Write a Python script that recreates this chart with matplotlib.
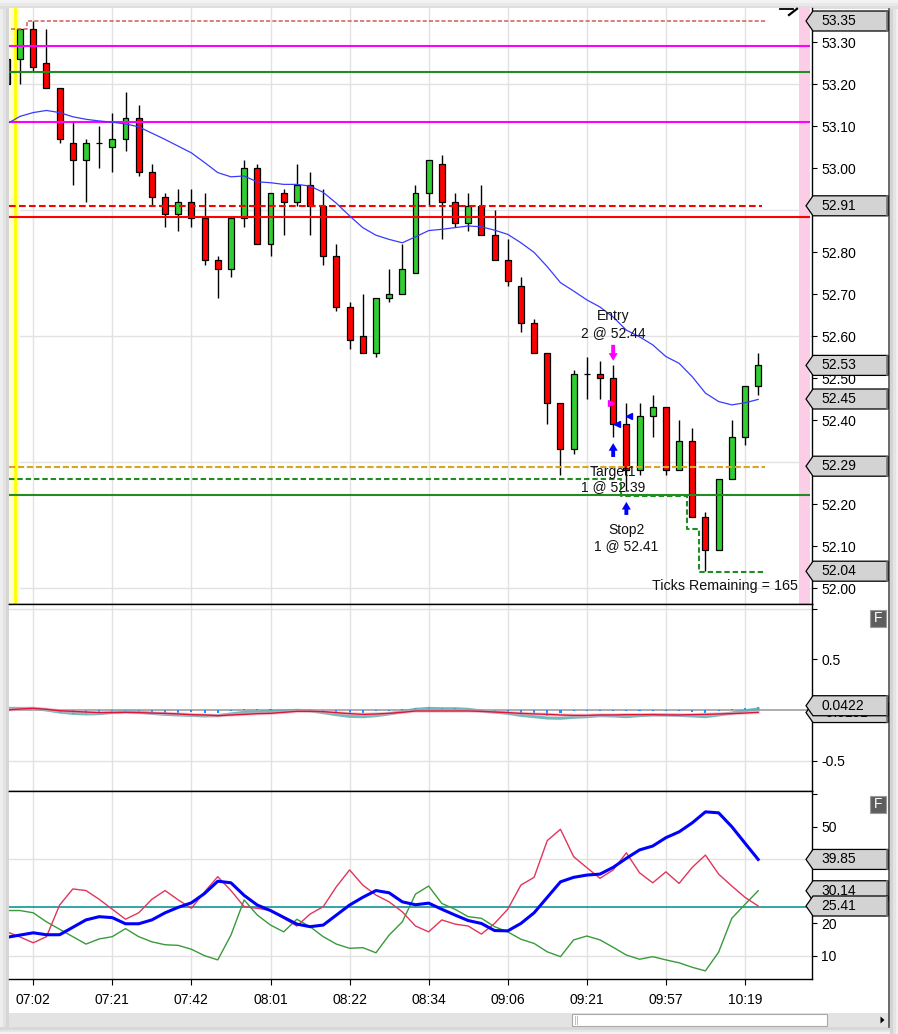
import matplotlib
matplotlib.use('Agg')
import matplotlib.pyplot as plt
from matplotlib.patches import Rectangle, Polygon
from matplotlib.lines import Line2D
from matplotlib.transforms import IdentityTransform
import numpy as np

plt.rcParams['font.family'] = ['Liberation Sans', 'DejaVu Sans']

W, H = 898, 1034

# ---------------- data ----------------
opens = [53.26, 53.26, 53.33, 53.25, 53.19, 53.06, 53.02, 53.06, 53.05, 53.07,
         53.12, 52.99, 52.93, 52.89, 52.92, 52.88, 52.78, 52.76, 52.88, 53.00,
         52.82, 52.94, 52.92, 52.96, 52.91, 52.79, 52.67, 52.60, 52.56, 52.69,
         52.70, 52.75, 52.94, 53.01, 52.92, 52.87, 52.91, 52.84, 52.78, 52.72,
         52.63, 52.56, 52.44, 52.33, 52.51, 52.51, 52.50, 52.39, 52.28, 52.41,
         52.43, 52.28, 52.35, 52.17, 52.09, 52.26, 52.36, 52.48]
highs = [53.26, 53.33, 53.35, 53.33, 53.19, 53.11, 53.07, 53.10, 53.13, 53.18,
         53.15, 53.01, 52.94, 52.95, 52.95, 52.94, 52.79, 52.88, 53.02, 53.01,
         52.94, 52.95, 53.01, 52.99, 52.95, 52.82, 52.68, 52.70, 52.69, 52.76,
         52.82, 52.96, 53.02, 53.03, 52.94, 52.94, 52.96, 52.90, 52.83, 52.74,
         52.64, 52.56, 52.44, 52.52, 52.55, 52.54, 52.53, 52.44, 52.44, 52.46,
         52.43, 52.40, 52.38, 52.18, 52.26, 52.40, 52.48, 52.56]
lows = [53.20, 53.20, 53.23, 53.19, 53.06, 52.96, 52.92, 53.00, 52.99, 53.04,
        52.98, 52.91, 52.86, 52.85, 52.86, 52.77, 52.69, 52.74, 52.86, 52.82,
        52.79, 52.84, 52.91, 52.84, 52.77, 52.66, 52.57, 52.56, 52.55, 52.68,
        52.70, 52.75, 52.91, 52.83, 52.86, 52.85, 52.84, 52.78, 52.72, 52.61,
        52.56, 52.39, 52.27, 52.32, 52.45, 52.45, 52.36, 52.23, 52.27, 52.36,
        52.27, 52.28, 52.17, 52.04, 52.09, 52.26, 52.34, 52.46]
closes = [53.20, 53.33, 53.24, 53.19, 53.07, 53.02, 53.06, 53.06, 53.07, 53.12,
          52.99, 52.93, 52.89, 52.92, 52.88, 52.78, 52.76, 52.88, 53.00, 52.82,
          52.94, 52.92, 52.96, 52.91, 52.79, 52.67, 52.59, 52.56, 52.69, 52.70,
          52.76, 52.94, 53.02, 52.92, 52.87, 52.91, 52.84, 52.78, 52.73, 52.63,
          52.56, 52.44, 52.33, 52.51, 52.51, 52.50, 52.39, 52.28, 52.41, 52.43,
          52.28, 52.35, 52.17, 52.09, 52.26, 52.36, 52.48, 52.53]
sma = [53.105, 53.123, 53.132, 53.137, 53.132, 53.122, 53.116, 53.112, 53.109, 53.105,
       53.098, 53.083, 53.068, 53.052, 53.036, 53.013, 52.989, 52.979, 52.981, 52.967,
       52.965, 52.961, 52.961, 52.957, 52.942, 52.916, 52.886, 52.858, 52.840, 52.830,
       52.822, 52.836, 52.851, 52.854, 52.858, 52.862, 52.860, 52.852, 52.842, 52.822,
       52.799, 52.765, 52.727, 52.707, 52.686, 52.669, 52.645, 52.614, 52.598, 52.579,
       52.551, 52.535, 52.503, 52.464, 52.444, 52.436, 52.441, 52.449]

macd = [0.016, 0.016, 0.016, 0.000, -0.020, -0.033, -0.039, -0.036, -0.023, -0.016,
        -0.020, -0.033, -0.043, -0.049, -0.053, -0.059, -0.056, -0.039, -0.023, -0.020,
        -0.016, -0.010, -0.003, -0.007, -0.026, -0.046, -0.063, -0.066, -0.056, -0.039,
        -0.016, 0.007, 0.016, 0.013, 0.013, 0.007, -0.010, -0.020, -0.033, -0.053,
        -0.066, -0.079, -0.082, -0.072, -0.066, -0.056, -0.059, -0.066, -0.056, -0.049,
        -0.049, -0.053, -0.059, -0.066, -0.049, -0.030, -0.007, 0.010]
signal = [0.000, 0.010, 0.016, 0.007, -0.007, -0.013, -0.020, -0.026, -0.026, -0.023,
          -0.026, -0.030, -0.033, -0.039, -0.046, -0.049, -0.056, -0.049, -0.043, -0.036,
          -0.033, -0.023, -0.013, -0.013, -0.016, -0.026, -0.036, -0.043, -0.039, -0.033,
          -0.023, -0.010, -0.010, -0.010, -0.010, -0.010, -0.013, -0.020, -0.026, -0.033,
          -0.039, -0.043, -0.049, -0.053, -0.053, -0.049, -0.049, -0.046, -0.046, -0.046,
          -0.049, -0.049, -0.046, -0.043, -0.039, -0.036, -0.030, -0.023]
hist = [0.000, 0.005, 0.000, -0.013, -0.026, -0.036, -0.039, -0.033, -0.023, -0.010,
        -0.020, -0.026, -0.026, -0.026, -0.016, -0.026, -0.026, -0.010, 0.007, 0.007,
        0.007, 0.003, 0.005, 0.007, -0.020, -0.026, -0.033, -0.033, -0.013, -0.005,
        0.007, 0.020, 0.026, 0.023, 0.016, 0.008, -0.010, -0.026, -0.033, -0.049,
        -0.043, -0.056, -0.026, -0.013, -0.005, -0.005, -0.013, -0.013, -0.007, -0.007,
        -0.005, -0.005, -0.016, -0.026, -0.007, 0.007, 0.020, 0.033]

adx = [15.7, 16.4, 17.1, 16.5, 16.5, 18.8, 21.1, 22.1, 21.8, 19.9,
       19.9, 21.1, 23.3, 25.0, 26.4, 29.3, 33.1, 32.6, 28.7, 25.7,
       24.0, 21.9, 19.8, 19.0, 19.5, 22.6, 25.7, 28.1, 30.2, 29.5,
       26.7, 25.8, 26.3, 24.4, 22.6, 20.9, 20.0, 17.8, 17.7, 20.0,
       23.3, 28.1, 32.9, 34.3, 35.0, 35.3, 37.4, 40.2, 42.8, 44.0,
       46.6, 48.4, 51.2, 54.6, 54.3, 50.0, 44.9, 39.85]
plus_di = [17.4, 15.8, 14.0, 15.9, 25.7, 30.7, 30.2, 27.5, 24.4, 21.3,
           23.3, 27.5, 30.2, 27.3, 24.7, 29.8, 34.5, 30.2, 25.2, 24.7,
           24.0, 21.6, 19.2, 22.9, 25.2, 31.4, 36.6, 31.9, 28.8, 26.7,
           23.6, 19.2, 17.4, 21.1, 19.8, 19.2, 16.7, 20.0, 24.4, 31.9,
           34.3, 45.7, 49.2, 40.7, 37.3, 34.0, 36.6, 41.9, 35.7, 32.6,
           36.0, 32.4, 37.4, 41.2, 35.3, 31.6, 28.1, 25.41]
minus_di = [24.0, 24.0, 23.3, 20.5, 18.2, 15.9, 13.6, 15.2, 15.9, 18.4,
            15.9, 14.3, 13.4, 13.2, 12.0, 10.0, 8.7, 16.4, 27.3, 22.6,
            19.5, 17.4, 21.3, 19.0, 15.9, 13.6, 12.3, 12.5, 10.9, 16.4,
            20.5, 29.1, 31.6, 26.2, 24.4, 22.1, 21.6, 19.0, 17.4, 15.1,
            13.8, 11.2, 9.7, 14.9, 16.1, 14.9, 12.6, 10.2, 8.9, 9.7,
            8.7, 7.8, 6.4, 5.3, 11.1, 21.6, 25.9, 30.14]
adx_level = 25

time_labels = ['07:02', '07:21', '07:42', '08:01', '08:22', '08:34',
               '09:06', '09:21', '09:57', '10:19']
time_bars = [2, 8, 14, 20, 26, 32, 38, 44, 50, 56]

price_ticks = [52.0, 52.1, 52.2, 52.3, 52.4, 52.5, 52.6, 52.7, 52.8, 52.9,
               53.0, 53.1, 53.2, 53.3]
price_hidden = [52.3, 52.9]          # labels covered by price tags in the reference
price_grid = [52.0, 52.3, 52.6, 52.9, 53.2]

# level lines
magenta_levels = [53.29, 53.11]
green_levels = [53.229, 52.221]
red_level = 52.883
red_dash_level = 52.91
orange_dash_level = 52.288
run_high_steps = [53.33, 53.35]
stop_steps = [52.26, 52.219, 52.14, 52.039]

entry_price, target_price, stop_price = 52.44, 52.39, 52.41
entry_bar, target_bar, stop_bar = 46, 46, 47

tags_main = [(53.35, '53.35'), (52.91, '52.91'), (52.53, '52.53'),
             (52.45, '52.45'), (52.29, '52.29'), (52.04, '52.04')]
tags_macd = [(-0.025, '-0.0191'), (0.0422, '0.0422')]
tags_adx = [(39.85, '39.85'), (30.14, '30.14'), (25.41, '25.41')]

# ---------------- figure ----------------
fig = plt.figure(figsize=(W / 100, H / 100), dpi=100)
fig.patch.set_facecolor('white')
ID = IdentityTransform()


def prect(x0, y0, x1, y1, **kw):
    r = Rectangle((x0, H - y1), x1 - x0, y1 - y0, transform=ID, **kw)
    fig.add_artist(r)
    return r


def pline(xs, ys, **kw):
    fig.add_artist(Line2D(xs, [H - y for y in ys], transform=ID, **kw))


# shadows / frame
for (a, b, col) in [(0, 3, '#f3f3f3'), (3, 6, '#e9e9e9'), (6, 8.5, '#dedede')]:
    prect(0, a, W, b, fc=col, ec='none', zorder=-2)
for (a, b, col) in [(0, 3, '#eeeeee'), (3, 6, '#e2e2e2'), (6, 9, '#d6d6d6')]:
    prect(a, 8.5, b, 1028, fc=col, ec='none', zorder=-2)
for (a, b, col) in [(890, 893, '#d4d4d4'), (893, 896, '#e4e4e4'), (896, 898, '#f0f0f0')]:
    prect(a, 8.5, b, 1034, fc=col, ec='none', zorder=-2)
for (a, b, col) in [(1027, 1030, '#d8d8d8'), (1030, 1032, '#e6e6e6'), (1032, 1034, '#f2f2f2')]:
    prect(0, a, 890, b, fc=col, ec='none', zorder=-2)
pline([889.3, 889.3], [8.5, 1027], color='#505050', lw=1.2, zorder=5)

# scrollbar
prect(9, 1013, 888.5, 1027, fc='#e3e3e3', ec='none', zorder=1)
prect(572, 1014, 827, 1026, fc='white', ec='#a9a9a9', lw=0.8, zorder=2)
pline([575, 575], [1016, 1024], color='#c0c0c0', lw=0.7, zorder=3)
pline([577, 577], [1016, 1024], color='#c0c0c0', lw=0.7, zorder=3)
fig.add_artist(Polygon([(880.5, H - 1016.5), (880.5, H - 1023.5), (884.5, H - 1020)],
                       closed=True, fc='black', ec='none', transform=ID, zorder=3))

L_PX, R_PX = 9, 812
fl, fw = L_PX / W, (R_PX - L_PX) / W
ax1 = fig.add_axes([fl, (H - 604) / H, fw, 596 / H])
ax2 = fig.add_axes([fl, (H - 791) / H, fw, 187 / H])
ax3 = fig.add_axes([fl, (H - 979) / H, fw, 188 / H])

bar_px0, bar_dx = 6.9, 13.18
xl = ((L_PX - bar_px0) / bar_dx, (R_PX - bar_px0) / bar_dx)

for ax in (ax1, ax2, ax3):
    ax.set_xlim(*xl)
    ax.set_facecolor('white')
    ax.spines['left'].set_visible(False)
    for s in ('right', 'top', 'bottom'):
        ax.spines[s].set_color('black')
        ax.spines[s].set_linewidth(1.0)
    ax.yaxis.tick_right()
    ax.tick_params(axis='y', which='both', length=3.6, width=0.8, pad=3,
                   labelsize=10, colors='black', direction='out')
    ax.tick_params(axis='x', length=0, labelbottom=False)
    for tb in time_bars:
        ax.axvline(tb, color='#e2e2e2', lw=1.0, zorder=0.5)
ax1.spines['top'].set_visible(False)

# ---------------- main panel ----------------
ax1.set_ylim(52 - 16 / 420, 52 + 580 / 420)
for g in price_grid:
    ax1.axhline(g, color='#e2e2e2', lw=1.0, zorder=0.5)
ax1.set_yticks(price_ticks)
ax1.set_yticklabels(['' if any(abs(t - h) < 1e-6 for h in price_hidden) else '%.2f' % t
                     for t in price_ticks])

ax1.axvspan(xl[0], 0.99, color='#ffffcc', lw=0, zorder=1)
ax1.axvline(0.61, color='#ffff00', lw=2.0, zorder=1.5)
ax1.axvspan((799 - bar_px0) / bar_dx, (810 - bar_px0) / bar_dx, color='#fccde6', lw=0, zorder=1)

idx = np.arange(len(opens))
o = np.array(opens); c = np.array(closes)
cols = np.where(c >= o, '#32cd32', '#ff0000')
ax1.vlines(idx, lows, highs, color='black', lw=1.0, zorder=3)
ax1.bar(idx, np.abs(c - o), bottom=np.minimum(o, c), width=0.45, color=cols,
        edgecolor='black', linewidth=0.9, zorder=4)

xr_full = (810 - bar_px0) / bar_dx
for m in magenta_levels:
    ax1.hlines(m, xl[0], xr_full, color='#ff00ff', lw=1.5, zorder=5)
for g in green_levels:
    ax1.hlines(g, xl[0], xr_full, color='#228b22', lw=1.5, zorder=5)
ax1.hlines(red_level, xl[0], xr_full, color='#ff0000', lw=1.5, zorder=5)
ax1.hlines(red_dash_level, xl[0], 57.3, color='#ff0000', lw=1.5,
           linestyles=(0, (3.2, 1.6)), zorder=5)
ax1.hlines(orange_dash_level, xl[0], 57.5, color='#daa520', lw=1.5,
           linestyles=(0, (3.0, 1.3)), zorder=5)
ax1.plot([0.3, 1.5, 1.5, 57.6],
         [run_high_steps[0], run_high_steps[0], run_high_steps[1], run_high_steps[1]],
         color='#cd5c5c', lw=1.1, dashes=(2.7, 1.4), zorder=5)
ax1.plot([xl[0], 46.57, 46.57, 51.58, 51.58, 52.53, 52.53, 57.5],
         [stop_steps[0], stop_steps[0], stop_steps[1], stop_steps[1],
          stop_steps[2], stop_steps[2], stop_steps[3], stop_steps[3]],
         color='#228b22', lw=1.5, dashes=(2.6, 1.4), zorder=5)

ax1.plot(idx, sma, color='#3a3aff', lw=0.9, zorder=6)

# executions
ax1.plot(entry_bar - 0.18, entry_price, marker='>', color='#ff00ff', ms=5, zorder=7)
ax1.plot(target_bar + 0.28, target_price, marker='<', color='#0000ff', ms=5, zorder=7)
ax1.plot(stop_bar + 0.2, stop_price, marker='<', color='#0000ff', ms=5, zorder=7)

astyle = 'simple,head_length=0.55,head_width=0.65,tail_width=0.28'
ax1.annotate('', xy=(entry_bar, 52.541), xytext=(entry_bar, 52.579),
             arrowprops=dict(arrowstyle=astyle, color='#ff00ff', lw=0,
                             shrinkA=0, shrinkB=0, mutation_scale=10), zorder=7)
ax1.annotate('', xy=(target_bar, 52.345), xytext=(target_bar, 52.312),
             arrowprops=dict(arrowstyle=astyle, color='#0000ff', lw=0,
                             shrinkA=0, shrinkB=0, mutation_scale=10), zorder=7)
ax1.annotate('', xy=(stop_bar, 52.205), xytext=(stop_bar, 52.174),
             arrowprops=dict(arrowstyle=astyle, color='#0000ff', lw=0,
                             shrinkA=0, shrinkB=0, mutation_scale=10), zorder=7)

tkw = dict(ha='center', va='center', fontsize=10, color='#111111', zorder=8)
ax1.text(entry_bar, 52.648, 'Entry', **tkw)
ax1.text(entry_bar, 52.608, '2 @ %.2f' % entry_price, **tkw)
ax1.text(target_bar, 52.277, 'Target1', **tkw)
ax1.text(target_bar, 52.240, '1 @ %.2f' % target_price, **tkw)
ax1.text(stop_bar, 52.138, 'Stop2', **tkw)
ax1.text(stop_bar, 52.100, '1 @ %.2f' % stop_price, **tkw)
ax1.text(60.02, 52.005, 'Ticks Remaining = 165', ha='right', va='center',
         fontsize=10.3, color='#111111', zorder=8)

# ---------------- MACD panel ----------------
z0 = 710
ax2.set_ylim((z0 - 791) / 101.3, (z0 - 604) / 101.3)
ax2.axhline(1.0, color='#e2e2e2', lw=1.0, zorder=0.5)
ax2.axhline(-0.5, color='#e2e2e2', lw=1.0, zorder=0.5)
ax2.axhline(0, color='#a0a0a0', lw=1.2, zorder=1)
ax2.set_yticks([-0.5, 0.5, 1.0])
ax2.set_yticklabels(['-0.5', '0.5', ''])
ax2.bar(idx, hist, width=0.16, color='#1e90ff', zorder=2)
ax2.plot(idx, macd, color='#58b0b0', lw=2.2, alpha=0.85, zorder=3)
ax2.plot(idx, signal, color='#f2a0b4', lw=2.4, alpha=0.6, zorder=3)
ax2.plot(idx, signal, color='#dc143c', lw=1.0, zorder=4)

# ---------------- ADX panel ----------------
ax3.set_ylim((987.95 - 979) / 3.225, (987.95 - 791) / 3.225)
ax3.axhline(40, color='#e2e2e2', lw=1.0, zorder=0.5)
ax3.axhline(10, color='#e2e2e2', lw=1.0, zorder=0.5)
ax3.set_yticks([10, 20, 30, 40, 50, 60])
ax3.set_yticklabels(['10', '20', '', '', '50', ''])
ax3.axhline(adx_level, color='#008b8b', lw=1.1, zorder=2)
ax3.plot(idx, minus_di, color='#3a9a3a', lw=1.0, zorder=3)
ax3.plot(idx, plus_di, color='#e0365c', lw=1.0, zorder=3)
ax3.plot(idx, adx, color='#0000ff', lw=2.2, zorder=4)
ax3.set_xticks(time_bars)
ax3.set_xticklabels(time_labels)
ax3.tick_params(axis='x', length=4.3, width=0.8, pad=5.5, labelsize=10,
                labelbottom=True, colors='black')

# ---------------- right-side price tags ----------------
tag_z = [10.0]


def price_tag(ax, value, text):
    z = tag_z[0]
    tag_z[0] += 0.1
    yc = ax.transData.transform((0, value))[1]
    xr = ax.transAxes.transform((1, 0))[0]
    x0, x1, x2 = xr - 6, xr + 1, 888
    pts = [(x0, yc), (x1, yc + 10), (x2, yc + 10), (x2, yc - 10), (x1, yc - 10)]
    fig.add_artist(Polygon(pts, closed=True, fc='#d3d3d3', ec='black', lw=0.9,
                           transform=ID, zorder=z))
    fig.add_artist(Line2D([x2 - 1, x2 - 1], [yc - 9.5, yc + 9.5], color='#7a7a7a',
                          lw=1.2, transform=ID, zorder=z + 0.01))
    fig.text(xr + 9, yc, text, transform=ID, ha='left', va='center',
             fontsize=10, color='black', zorder=z + 0.02)


for v, t in tags_main:
    price_tag(ax1, v, t)
for v, t in tags_macd:
    price_tag(ax2, v, t)
for v, t in tags_adx:
    price_tag(ax3, v, t)

# "F" buttons
for (y0, y1) in [(610, 627), (796, 813)]:
    prect(870, y0, 886, y1, fc='#5e5e5e', ec='#9a9a9a', lw=0.8, zorder=20)
    fig.text(878, H - (y0 + y1) / 2, 'F', transform=ID, ha='center', va='center',
             fontsize=10, color='white', zorder=21)

# corner glyph top-right
pline([780, 793], [9.3, 9.3], color='black', lw=1.3, zorder=6)
pline([789, 797], [15, 8.8], color='black', lw=1.6, zorder=6)

fig.savefig('out.png', dpi=100, facecolor=fig.get_facecolor())
